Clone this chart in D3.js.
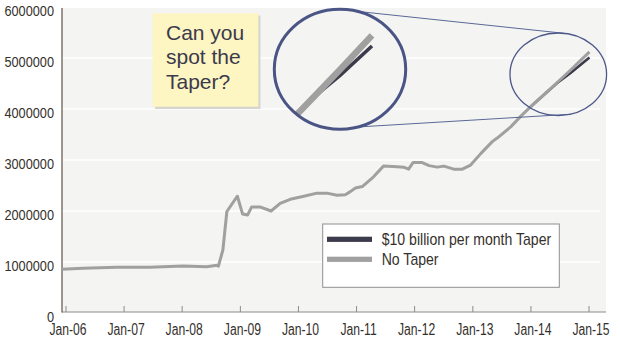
<!DOCTYPE html>
<html><head><meta charset="utf-8">
<script src="https://cdn.jsdelivr.net/npm/d3@7"></script>
<style>
html,body{margin:0;padding:0;background:#fff;}
svg{display:block;}
text{font-family:"Liberation Sans",Arial,sans-serif;}
</style></head>
<body><svg id="chart" width="620" height="341"></svg>
<script>
// ---- data ----
const noTaperDates = ["2005-12-06","2006-04-18","2006-11-15","2007-06-12","2008-01-07","2008-06-04","2008-08-06","2008-08-16","2008-09-13","2008-10-08","2008-12-13","2009-01-15","2009-02-15","2009-03-13","2009-05-04","2009-07-13","2009-09-08","2009-11-10","2010-02-04","2010-04-27","2010-06-28","2010-09-01","2010-10-22","2010-11-23","2010-12-25","2011-02-06","2011-04-18","2011-06-19","2011-09-12","2011-10-24","2011-11-24","2011-12-22","2012-02-18","2012-04-01","2012-05-22","2012-07-03","2012-09-03","2012-10-27","2012-12-18","2013-02-21","2013-05-03","2013-06-03","2013-08-27","2013-10-27","2014-01-01","2014-03-24","2014-06-15","2014-09-09","2015-01-04"];
const noTaperValues = [857000,876000,896000,896000,920000,908000,935000,920000,1235000,1990000,2290000,1940000,1920000,2080000,2080000,2000000,2150000,2230000,2290000,2350000,2350000,2310000,2320000,2380000,2450000,2480000,2670000,2880000,2870000,2860000,2820000,2950000,2950000,2890000,2860000,2880000,2820000,2820000,2900000,3130000,3360000,3430000,3650000,3850000,4050000,4280000,4520000,4770000,5120000];
const taperDates = ["2014-01-01","2014-03-24","2014-06-15","2014-09-09","2015-01-04"];
const taperValues = [4050000,4280000,4510000,4710000,5010000];
const yTicks = [0,1000000,2000000,3000000,4000000,5000000,6000000];
const xTickYears = [2006,2007,2008,2009,2010,2011,2012,2013,2014,2015];
const seriesNames = ["$10 billion per month Taper","No Taper"];
const seriesColors = ["#3b3b4b","#a0a0a0"];
const calloutLines = ["Can you","spot the","Taper?"];

const parse = d3.timeParse("%Y-%m-%d");
const noTaper = noTaperDates.map((d,i)=>({date:parse(d),value:noTaperValues[i]}));
const taper = taperDates.map((d,i)=>({date:parse(d),value:taperValues[i]}));

const svg = d3.select("#chart");
const plot = {left:62,right:606,top:8,bottom:312};

const x = d3.scaleTime().domain([new Date(2006,0,1),new Date(2015,0,1)]).range([66,589]);
const y = d3.scaleLinear().domain([0,6000000]).range([313,7]);

// background
svg.append("rect").attr("x",plot.left).attr("y",plot.top)
  .attr("width",plot.right-plot.left).attr("height",plot.bottom-plot.top).attr("fill","#f4f4f2");

// gridlines
svg.append("g").selectAll("line").data(yTicks.filter(v=>v>0&&v<6000000)).join("line")
  .attr("x1",plot.left).attr("x2",600).attr("y1",d=>y(d)).attr("y2",d=>y(d))
  .attr("stroke","#ffffff").attr("stroke-width",1.5);

// y labels (condensed look via horizontal scale)
svg.append("g").selectAll("text").data(yTicks).join("text")
  .attr("transform",d=>`translate(54,${y(d)+8.5}) scale(0.85,1)`)
  .attr("text-anchor","end").attr("font-size",15).attr("fill","#35302c").text(d=>d3.format("d")(d));

// x axis ticks & labels
const xt = xTickYears.map(yr=>new Date(yr,0,1));
svg.append("g").selectAll("line").data(xt).join("line")
  .attr("x1",d=>x(d)).attr("x2",d=>x(d)).attr("y1",plot.bottom-6).attr("y2",plot.bottom)
  .attr("stroke","#8c8c8c").attr("stroke-width",1);
svg.append("g").selectAll("text").data(xt).join("text")
  .attr("transform",d=>`translate(${x(d)+2},334.5) scale(0.76,1)`)
  .attr("text-anchor","middle").attr("font-size",16).attr("fill","#35302c").text(d3.timeFormat("%b-%y"));
svg.append("line").attr("x1",plot.left).attr("x2",plot.right).attr("y1",plot.bottom).attr("y2",plot.bottom)
  .attr("stroke","#8c8c8c").attr("stroke-width",1);
svg.append("line").attr("x1",plot.left).attr("x2",plot.left).attr("y1",plot.top).attr("y2",plot.bottom+0.5)
  .attr("stroke","#6a6058").attr("stroke-width",1.3);

// lines
const line = d3.line().x(d=>x(d.date)).y(d=>y(d.value));
svg.append("path").datum(taper).attr("d",line).attr("fill","none")
  .attr("stroke",seriesColors[0]).attr("stroke-width",2.6);
svg.append("path").datum(noTaper).attr("d",line).attr("fill","none")
  .attr("stroke",seriesColors[1]).attr("stroke-width",3).attr("stroke-linejoin","round");

// magnifier annotation
const small = {cx:x(new Date(2014,5,22)), cy:y(4680000), rx:48.3, ry:41.3};
const big = {cx:340, cy:69.3, rx:65.7, ry:60};
const pt = (e,deg)=>[e.cx+e.rx*Math.cos(deg*Math.PI/180), e.cy+e.ry*Math.sin(deg*Math.PI/180)];
const conn = [[pt(big,-75),pt(small,-83)],[pt(big,74),pt(small,75)]];
svg.append("g").selectAll("line").data(conn).join("line")
  .attr("x1",d=>d[0][0]).attr("y1",d=>d[0][1]).attr("x2",d=>d[1][0]).attr("y2",d=>d[1][1])
  .attr("stroke","#5a6897").attr("stroke-width",1);
svg.append("ellipse").attr("cx",small.cx).attr("cy",small.cy).attr("rx",small.rx).attr("ry",small.ry)
  .attr("fill","none").attr("stroke","#4c588a").attr("stroke-width",1.3);

// inset (magnified copy of the tail)
const sx = 1.7, sy = 1.9, ox = -630.1, oy = -63.2;
const xi = x.copy().range(x.range().map(r=>ox+sx*r));
const yi = y.copy().range(y.range().map(r=>oy+sy*r));
svg.append("clipPath").attr("id","lens").append("ellipse")
  .attr("cx",big.cx).attr("cy",big.cy).attr("rx",big.rx-1).attr("ry",big.ry-1);
const lens = svg.append("g").attr("clip-path","url(#lens)");
lens.append("ellipse").attr("cx",big.cx).attr("cy",big.cy).attr("rx",big.rx).attr("ry",big.ry).attr("fill","#f4f4f2");
const lineI = d3.line().x(d=>xi(d.date)).y(d=>yi(d.value));
lens.append("path").datum(taper).attr("d",lineI).attr("fill","none").attr("stroke",seriesColors[0]).attr("stroke-width",3.5);
lens.append("path").datum(noTaper.filter(d=>d.date>=new Date(2013,6,1))).attr("d",lineI).attr("fill","none")
  .attr("stroke",seriesColors[1]).attr("stroke-width",6.5);
svg.append("ellipse").attr("cx",big.cx).attr("cy",big.cy).attr("rx",big.rx).attr("ry",big.ry)
  .attr("fill","none").attr("stroke","#4a5585").attr("stroke-width",3);

// callout
svg.append("rect").attr("x",155).attr("y",15.5).attr("width",105.5).attr("height",93.5).attr("fill","#d6d6cf");
svg.append("rect").attr("x",152.7).attr("y",13.3).attr("width",105.6).attr("height",93.4).attr("fill","#fdf5c2");
svg.append("g").selectAll("text").data(calloutLines).join("text")
  .attr("x",166).attr("y",(d,i)=>39.5+i*24.5)
  .attr("font-size",21).attr("fill","#3b3a4c").text(d=>d);

// legend
const lg = svg.append("g");
lg.append("rect").attr("x",322.7).attr("y",224).attr("width",236.6).attr("height",63.3)
  .attr("fill","#ffffff").attr("stroke","#8f8f8f").attr("stroke-width",1);
const li = lg.selectAll("g.item").data(seriesNames).join("g").attr("class","item")
  .attr("transform",(d,i)=>`translate(327,${239.3+i*20})`);
li.append("rect").attr("x",0).attr("y",-2.6).attr("width",45).attr("height",5.2).attr("fill",(d,i)=>seriesColors[i]);
li.append("text").attr("transform","translate(54.7,5.8) scale(0.88,1)")
  .attr("font-size",16).attr("fill","#35302c").text(d=>d);
</script></body></html>
